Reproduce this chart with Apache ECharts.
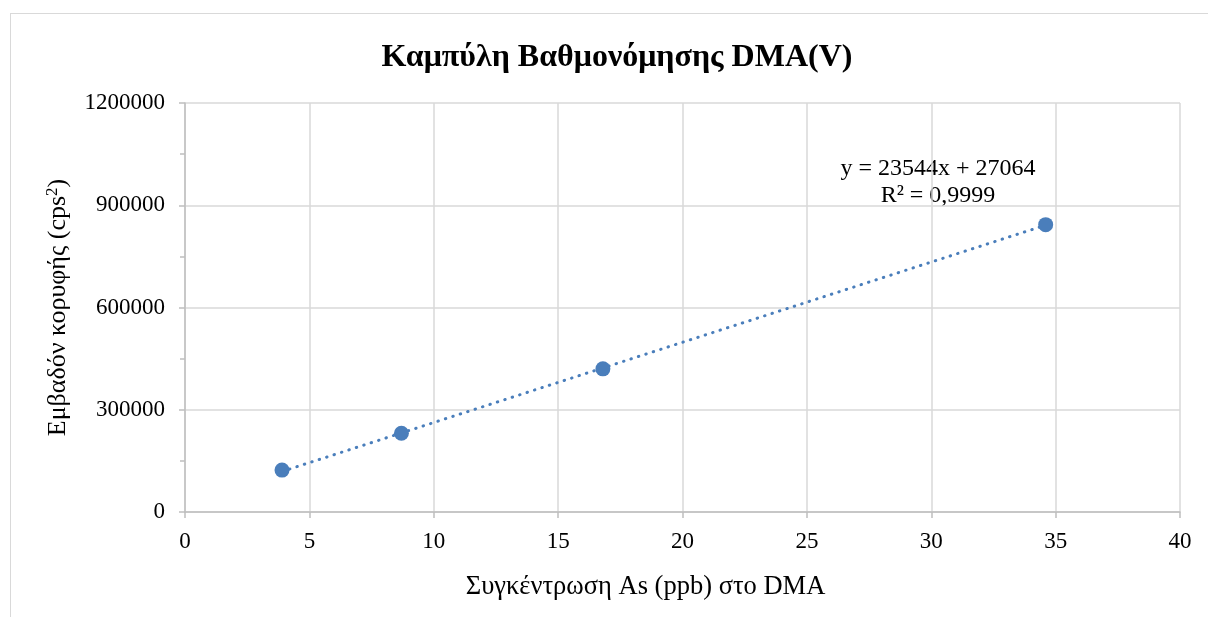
<!DOCTYPE html>
<html>
<head>
<meta charset="utf-8">
<script src="https://cdn.jsdelivr.net/npm/echarts@6/dist/echarts.min.js"></script>
<style>
  html, body { margin: 0; padding: 0; background: #fff; }
  #frame { position: absolute; left: 10px; top: 13px; width: 1198px; height: 604px;
           border-left: 1.5px solid #d9d9d9; border-top: 1.5px solid #d9d9d9; box-sizing: border-box; }
  #chart { position: absolute; left: 0; top: 0; width: 1208px; height: 617px; }
</style>
</head>
<body>
<div id="frame"></div>
<div id="chart"></div>
<script>
// Calibration standards: As concentration (ppb) and peak area (cps²)
const concentrations = [3.9, 8.7, 16.8, 34.6];
const peakAreas = [123000, 231000, 420000, 843000];

// Linear fit reported for the calibration
const slope = 23544;
const intercept = 27064;
const rSquared = '0,9999';

const yTicks = [0, 300000, 600000, 900000, 1200000];
const xTicks = [0, 5, 10, 15, 20, 25, 30, 35, 40];

const FONT = '"Liberation Serif", "Times New Roman", serif';
const BLUE = '#4a7ebb';

const points = concentrations.map((x, i) => [x, peakAreas[i]]);
const xFirst = concentrations[0];
const xLast = concentrations[concentrations.length - 1];
const trend = [[xFirst, slope * xFirst + intercept], [xLast, slope * xLast + intercept]];

const chart = echarts.init(document.getElementById('chart'), null, { renderer: 'canvas' });
chart.setOption({
  backgroundColor: 'transparent',
  animation: false,
  title: {
    text: 'Καμπύλη Βαθμονόμησης DMA(V)',
    left: 612, top: 37, textAlign: 'center',
    textStyle: { fontFamily: FONT, fontSize: 32, fontWeight: 'bold', color: '#000' }
  },
  grid: { left: 185, right: 28, top: 103, bottom: 105 },
  xAxis: {
    type: 'value', min: xTicks[0], max: xTicks[xTicks.length - 1], interval: 5,
    name: 'Συγκέντρωση As (ppb) στο DMA',
    nameLocation: 'middle', nameGap: 62,
    nameTextStyle: { fontFamily: FONT, fontSize: 26.5, color: '#000', padding: [0, 74, 0, 0] },
    axisLine: { show: true, lineStyle: { color: '#bfbfbf', width: 1.5 } },
    axisTick: { show: true, length: 6, lineStyle: { color: '#bfbfbf', width: 1.5 } },
    axisLabel: { fontFamily: FONT, fontSize: 23, color: '#000', margin: 18 },
    splitLine: { show: true, lineStyle: { color: '#d9d9d9', width: 1.5 } }
  },
  yAxis: {
    type: 'value', min: yTicks[0], max: yTicks[yTicks.length - 1], interval: 300000,
    name: '{t|Εμβαδόν κορυφής (cps}{s|2}{t|)}',
    nameLocation: 'middle', nameGap: 112,
    nameTextStyle: {
      fontFamily: FONT, fontSize: 26, color: '#000',
      rich: {
        t: { fontFamily: FONT, fontSize: 26, color: '#000' },
        s: { fontFamily: FONT, fontSize: 17, color: '#000', verticalAlign: 'top', padding: [0, 0, 12, 0] }
      }
    },
    axisLine: { show: true, lineStyle: { color: '#bfbfbf', width: 1.5 } },
    axisTick: { show: true, length: 6, lineStyle: { color: '#bfbfbf', width: 1.5 } },
    minorTick: { show: true, splitNumber: 2, length: 5, lineStyle: { color: '#bfbfbf', width: 1.5 } },
    axisLabel: { fontFamily: FONT, fontSize: 23, color: '#000', margin: 20, formatter: v => String(v) },
    splitLine: { show: true, lineStyle: { color: '#d9d9d9', width: 1.5 } }
  },
  series: [
    {
      name: 'Γραμμή τάσης',
      type: 'line',
      data: trend,
      symbol: 'none',
      z: 2,
      lineStyle: { color: BLUE, width: 3, type: [0.5, 7.3], cap: 'round' }
    },
    {
      name: 'DMA(V)',
      type: 'scatter',
      data: points,
      symbol: 'circle',
      symbolSize: 15,
      z: 3,
      itemStyle: { color: BLUE, opacity: 1 }
    }
  ],
  graphic: [
    {
      type: 'text', x: 938, y: 155,
      style: {
        text: 'y = ' + slope + 'x + ' + intercept + '\nR² = ' + rSquared,
        font: '24px ' + FONT, fill: '#000', align: 'center', lineHeight: 27
      }
    }
  ]
});
</script>
</body>
</html>
